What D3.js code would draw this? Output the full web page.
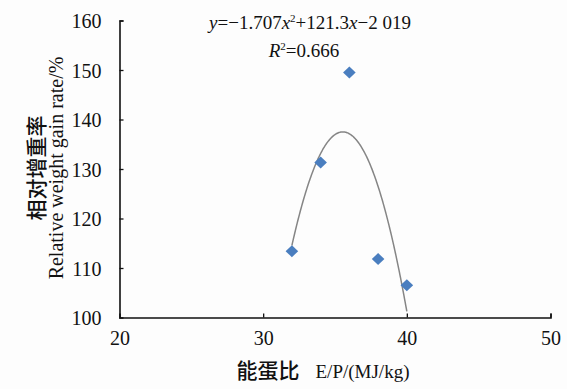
<!DOCTYPE html>
<html><head><meta charset="utf-8">
<script src="https://cdn.jsdelivr.net/npm/d3@7"></script>
<style>
html,body{margin:0;padding:0;background:#fff;}
svg{display:block;}
text{font-family:"Liberation Serif","DejaVu Serif",serif;fill:#111;}
.cjk{font-family:"Noto Sans CJK SC",sans-serif;}
</style></head><body>
<div id="chart"></div>
<script>
const epRatio = [32, 34, 36, 38, 40];
const gainRate = [113.4, 131.3, 149.5, 111.8, 106.5];
const xTicks = [20, 30, 40, 50];
const yTicks = [100, 110, 120, 130, 140, 150, 160];
const eqText = ["y", "=−1.707", "x", "2", "+121.3", "x", "−2 019"];
const r2Text = "0.666";

const W = 567, H = 389;
const svg = d3.select("#chart").append("svg").attr("width", W).attr("height", H);
svg.append("rect").attr("width", W).attr("height", H).attr("fill", "#fdfdfd");

const x = d3.scaleLinear().domain([20, 50]).range([119.5, 550.5]);
const y = d3.scaleLinear().domain([100, 160]).range([317.5, 20.5]);

// axes
const xAxis = d3.axisBottom(x).tickValues(xTicks).tickSize(-4).tickPadding(10).tickFormat(d3.format("d"));
const yAxis = d3.axisLeft(y).tickValues(yTicks).tickSize(-4).tickPadding(18).tickFormat(d3.format("d"));

const gx = svg.append("g").attr("transform", `translate(0,${y(100)})`).call(xAxis);
const gy = svg.append("g").attr("transform", `translate(${x(20)},0)`).call(yAxis);
[gx, gy].forEach(g => {
  g.attr("font-family", null).attr("font-size", null);
  g.select(".domain").attr("stroke", "#111").attr("stroke-width", 1.6);
  g.selectAll(".tick line").attr("stroke", "#111").attr("stroke-width", 1.3);
  g.selectAll(".tick text").attr("font-size", 20).attr("fill", "#111");
});
gx.selectAll(".tick text").attr("dy", "0.85em");
gy.selectAll(".tick text").attr("dy", "0.35em");
gx.selectAll(".tick").filter(d => d === 20).select("line").remove();
gy.selectAll(".tick").filter(d => d === 100).select("line").remove();

// quadratic least-squares fit from the data
function quadFit(xs, ys) {
  const n = xs.length;
  let s = [0,0,0,0,0], t = [0,0,0];
  for (let i = 0; i < n; i++) {
    const xi = xs[i], yi = ys[i];
    for (let k = 0; k < 5; k++) s[k] += Math.pow(xi, k);
    for (let k = 0; k < 3; k++) t[k] += yi * Math.pow(xi, k);
  }
  const A = [[s[0], s[1], s[2], t[0]], [s[1], s[2], s[3], t[1]], [s[2], s[3], s[4], t[2]]];
  for (let i = 0; i < 3; i++) {
    for (let j = i + 1; j < 3; j++) {
      const f = A[j][i] / A[i][i];
      for (let k = i; k < 4; k++) A[j][k] -= f * A[i][k];
    }
  }
  const c = [0,0,0];
  for (let i = 2; i >= 0; i--) {
    let v = A[i][3];
    for (let k = i + 1; k < 3; k++) v -= A[i][k] * c[k];
    c[i] = v / A[i][i];
  }
  return c;
}
const coef = quadFit(epRatio, gainRate);
const fitPts = d3.range(0, 201).map(i => {
  const xv = d3.min(epRatio) + (d3.max(epRatio) - d3.min(epRatio)) * i / 200;
  return [xv, coef[0] + coef[1] * xv + coef[2] * xv * xv];
});
svg.append("path")
  .attr("d", d3.line().x(d => x(d[0])).y(d => y(d[1]))(fitPts))
  .attr("fill", "none").attr("stroke", "#858585").attr("stroke-width", 1.5);

// points
const pts = epRatio.map((d, i) => [d, gainRate[i]]);
svg.selectAll(".pt").data(pts).enter().append("path")
  .attr("class", "pt")
  .attr("transform", d => `translate(${x(d[0])},${y(d[1])})`)
  .attr("d", "M0,-6L6.3,0L0,6L-6.3,0Z")
  .attr("fill", "#4a7ebf");

// equation
const eq = svg.append("text").attr("x", 310).attr("y", 29).attr("text-anchor", "middle").attr("font-size", 19);
eq.append("tspan").attr("font-style", "italic").text(eqText[0]);
eq.append("tspan").text(eqText[1]);
eq.append("tspan").attr("font-style", "italic").text(eqText[2]);
eq.append("tspan").attr("font-size", 11).attr("dy", -7).text(eqText[3]);
eq.append("tspan").attr("dy", 7).text(eqText[4]);
eq.append("tspan").attr("font-style", "italic").text(eqText[5]);
eq.append("tspan").text(eqText[6]);

const r2 = svg.append("text").attr("x", 304).attr("y", 57).attr("text-anchor", "middle").attr("font-size", 19);
r2.append("tspan").attr("font-style", "italic").text("R");
r2.append("tspan").attr("font-size", 11).attr("dy", -7).text("2");
r2.append("tspan").attr("dy", 7).text("=" + r2Text);

// y title
const cy = 168;
svg.append("text").attr("class", "cjk")
  .attr("transform", `translate(44,${cy}) rotate(-90)`)
  .attr("text-anchor", "middle").attr("font-size", 21).attr("font-weight", 500)
  .text("相对增重率");
svg.append("text")
  .attr("transform", `translate(63,${cy}) rotate(-90)`)
  .attr("text-anchor", "middle").attr("font-size", 20)
  .text("Relative weight gain rate/%");

// x title
const xt = svg.append("text").attr("x", 323).attr("y", 378).attr("text-anchor", "middle").attr("font-size", 19);
xt.append("tspan").attr("class", "cjk").attr("font-size", 21).attr("font-weight", 500).text("能蛋比");
xt.append("tspan").attr("dx", 16).text("E/P/(MJ/kg)");
</script>
</body></html>
